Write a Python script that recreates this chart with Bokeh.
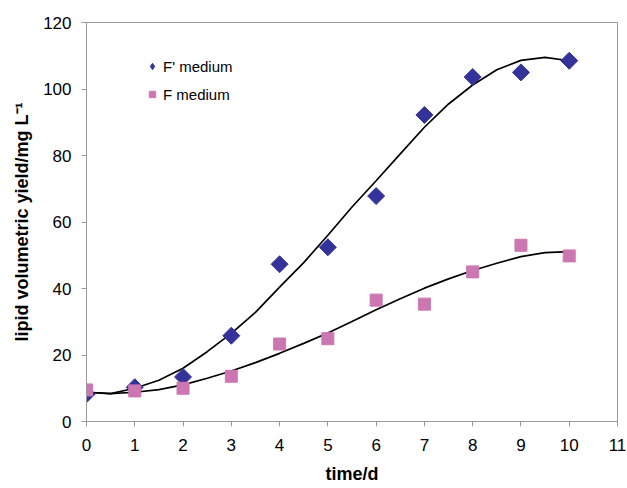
import math
from bokeh.plotting import figure
from bokeh.models import FixedTicker, Legend, LegendItem, Range1d
from bokeh.embed import file_html
from bokeh.resources import INLINE

# Data
days = [0, 1, 2, 3, 4, 5, 6, 7, 8, 9, 10]
f_prime = [8.2, 10.3, 13.4, 25.8, 47.3, 52.4, 67.8, 92.2, 103.6, 105.0, 108.5]
f_medium = [9.5, 9.2, 10.0, 13.6, 23.3, 24.9, 36.5, 35.3, 45.0, 53.0, 49.8]

trend_x = [0, 0.5, 1, 1.5, 2, 2.5, 3, 3.5, 4, 4.5, 5, 5.5, 6, 6.5, 7, 7.5, 8, 8.5, 9, 9.5, 10]
trend_f_prime = [8.8, 8.4, 10.0, 12.4, 16.0, 21.0, 26.5, 32.8, 40.4, 47.8, 56.0, 64.5,
                 72.4, 80.5, 88.5, 95.5, 101.2, 105.8, 108.6, 109.5, 108.5]
trend_f = [8.8, 8.4, 8.8, 9.6, 11.0, 13.0, 15.2, 17.7, 20.5, 23.5, 26.6, 30.1,
           33.6, 36.9, 40.1, 42.9, 45.4, 47.6, 49.6, 50.8, 51.1]

x_ticks = list(range(0, 12))
y_ticks = [0, 20, 40, 60, 80, 100, 120]

FONT = "Liberation Sans"
NAVY = "#333399"
PINK = "#CC77B2"

p = figure(width=627, height=488, output_backend="svg", toolbar_location=None,
           x_range=Range1d(0, 11), y_range=Range1d(0, 120),
           min_border_left=86, min_border_right=10, min_border_top=22, min_border_bottom=67)

p.background_fill_color = "white"
p.border_fill_color = "white"
p.outline_line_color = "#999999"
p.outline_line_width = 1
p.xgrid.visible = False
p.ygrid.visible = False

for ax in (p.xaxis[0], p.yaxis[0]):
    ax.axis_line_color = "#999999"
    ax.major_tick_line_color = "#999999"
    ax.minor_tick_line_color = None
    ax.major_tick_in = 0
    ax.major_tick_out = 5
    ax.major_label_text_font = FONT
    ax.major_label_text_font_size = "17px"
    ax.major_label_text_color = "black"
    ax.axis_label_text_font = FONT
    ax.axis_label_text_font_size = "18px"
    ax.axis_label_text_font_style = "bold"
    ax.axis_label_text_color = "black"

p.xaxis.ticker = FixedTicker(ticks=x_ticks)
p.yaxis.ticker = FixedTicker(ticks=y_ticks)
p.xaxis.axis_label = "time/d"
p.yaxis.axis_label = "lipid volumetric yield/mg L\u207b\u00b9"
p.xaxis.major_label_standoff = 12
p.yaxis.major_label_standoff = 10
p.xaxis.axis_label_standoff = 10
p.yaxis.axis_label_standoff = 8

p.line(trend_x, trend_f_prime, line_color="black", line_width=1.7)
p.line(trend_x, trend_f, line_color="black", line_width=1.7)

p.scatter(days, f_prime, marker="square", angle=math.pi / 4, size=12,
          fill_color=NAVY, line_color=NAVY)
p.scatter(days, f_medium, marker="square", size=12,
          fill_color=PINK, line_color=PINK)

# legend proxies (a single NaN point, never drawn in the plot)
nan = float("nan")
lg1 = p.scatter(x=[nan], y=[nan], marker="diamond", size=12, fill_color=NAVY, line_color=NAVY)
lg2 = p.scatter(x=[nan], y=[nan], marker="square", size=12, fill_color=PINK, line_color=PINK)

legend = Legend(items=[LegendItem(label="F' medium", renderers=[lg1]),
                       LegendItem(label="F medium", renderers=[lg2])],
                location=(58, 317))
legend.border_line_color = None
legend.background_fill_alpha = 0
legend.padding = 0
legend.margin = 0
legend.spacing = 8
legend.glyph_width = 16
legend.glyph_height = 16
legend.label_height = 20
legend.label_standoff = 3
legend.label_text_font = FONT
legend.label_text_font_size = "15px"
legend.label_text_color = "black"
p.add_layout(legend, "center")

open("out.html", "w").write(file_html(p, INLINE))
